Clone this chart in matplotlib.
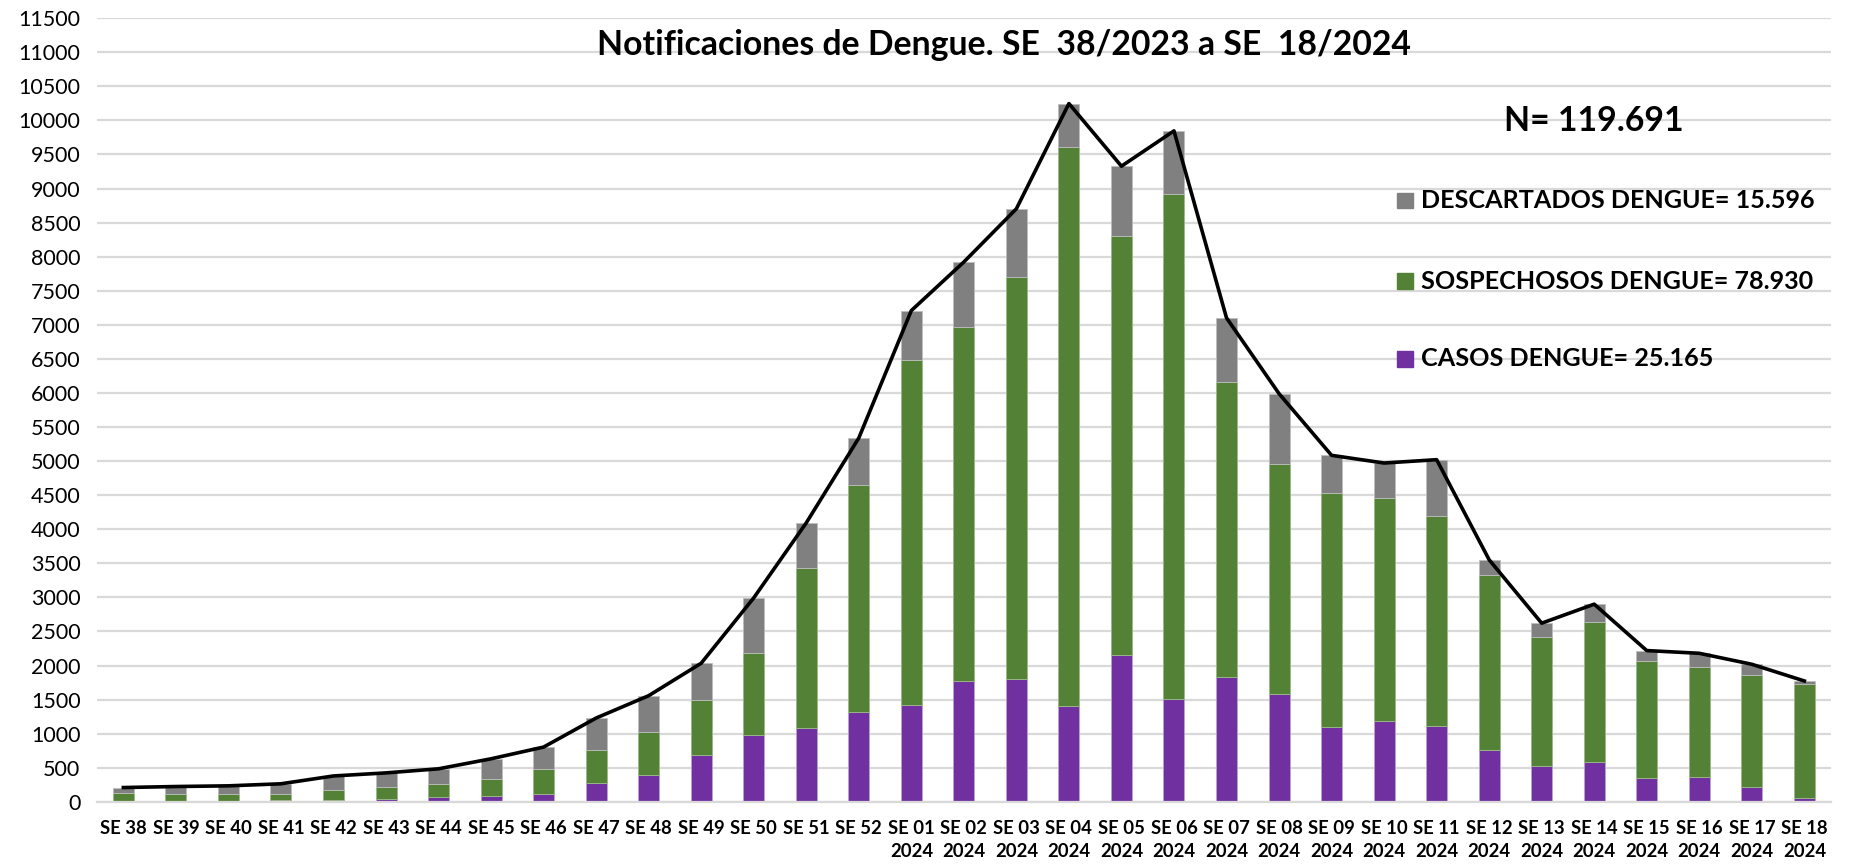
import matplotlib
matplotlib.use('Agg')
import matplotlib.pyplot as plt
import numpy as np

plt.rcParams['font.family'] = ['Lato', 'DejaVu Sans']

# Semanas epidemiologicas
semanas = ['SE 38', 'SE 39', 'SE 40', 'SE 41', 'SE 42', 'SE 43', 'SE 44', 'SE 45',
           'SE 46', 'SE 47', 'SE 48', 'SE 49', 'SE 50', 'SE 51', 'SE 52',
           'SE 01\n2024', 'SE 02\n2024', 'SE 03\n2024', 'SE 04\n2024', 'SE 05\n2024',
           'SE 06\n2024', 'SE 07\n2024', 'SE 08\n2024', 'SE 09\n2024', 'SE 10\n2024',
           'SE 11\n2024', 'SE 12\n2024', 'SE 13\n2024', 'SE 14\n2024', 'SE 15\n2024',
           'SE 16\n2024', 'SE 17\n2024', 'SE 18\n2024']

casos = [5, 5, 5, 20, 25, 44, 69, 88, 122, 270, 387, 681, 980, 1078, 1313,
         1426, 1769, 1808, 1411, 2151, 1504, 1833, 1588, 1093, 1191, 1117,
         764, 529, 588, 353, 372, 216, 54]
sospechosos = [132, 117, 113, 98, 151, 171, 196, 250, 363, 490, 643, 819, 1210,
               2352, 3337, 5051, 5206, 5899, 8196, 6147, 7419, 4331, 3365, 3434,
               3272, 3072, 2558, 1887, 2058, 1715, 1613, 1646, 1681]
descartados = [73, 103, 117, 147, 204, 210, 220, 294, 319, 470, 528, 534, 803,
               664, 689, 732, 947, 996, 640, 1030, 923, 938, 1037, 558, 509, 832,
               230, 206, 255, 152, 195, 157, 39]

leyenda = ['DESCARTADOS DENGUE= 15.596', 'SOSPECHOSOS DENGUE= 78.930',
           'CASOS DENGUE= 25.165']

c_casos = '#7030A0'
c_sosp = '#538135'
c_desc = '#808080'

x = np.arange(len(semanas))
casos = np.array(casos)
sospechosos = np.array(sospechosos)
descartados = np.array(descartados)
total = casos + sospechosos + descartados

fig = plt.figure(figsize=(18.6, 8.65), dpi=100)
ax = fig.add_axes([0.0522, 0.073, 0.932, 0.906])

w = 0.4
ax.bar(x, casos, w, color=c_casos, edgecolor='#b9a3cc', linewidth=0.6, zorder=2)
ax.bar(x, sospechosos, w, bottom=casos, color=c_sosp, edgecolor='#9cb98a',
       linewidth=0.6, zorder=2)
ax.bar(x, descartados, w, bottom=casos + sospechosos, color=c_desc,
       edgecolor='#bdbdbd', linewidth=0.6, zorder=2)
ax.plot(x, total, color='black', linewidth=2.6, zorder=3)

ax.set_xlim(-0.5, len(semanas) - 0.5)
ax.set_ylim(0, 11500)
ax.set_yticks(np.arange(0, 11501, 500))
ax.yaxis.grid(True, color='#d9d9d9', linewidth=1.6, zorder=0)
ax.set_axisbelow(True)
for s in ['top', 'right', 'left']:
    ax.spines[s].set_visible(False)
ax.spines['bottom'].set_color('#d9d9d9')
ax.spines['bottom'].set_linewidth(1.6)
ax.tick_params(axis='both', length=0)
ax.tick_params(axis='y', labelsize=15.5, pad=12)
ax.set_xticks(x)
ax.set_xticklabels(semanas, fontsize=13.3, fontweight='bold', linespacing=1.4,
                   va='top')
ax.tick_params(axis='x', pad=13)

fig.text(0.54, 0.948, 'Notificaciones de Dengue. SE  38/2023 a SE  18/2024',
         ha='center', va='center', fontsize=24.3, fontweight='bold')
fig.text(0.857, 0.860, 'N= 119.691', ha='center', va='center', fontsize=24.3,
         fontweight='bold')

colores = [c_desc, c_sosp, c_casos]
ys = [0.768, 0.675, 0.585]
for texto, col, yy in zip(leyenda, colores, ys):
    fig.patches.append(plt.Rectangle((0.751, yy - 0.009), 0.0086, 0.018,
                                     transform=fig.transFigure, color=col,
                                     figure=fig))
    fig.text(0.764, yy, texto, ha='left', va='center', fontsize=18.1,
             fontweight='bold')

fig.savefig('out.png', dpi=100)
